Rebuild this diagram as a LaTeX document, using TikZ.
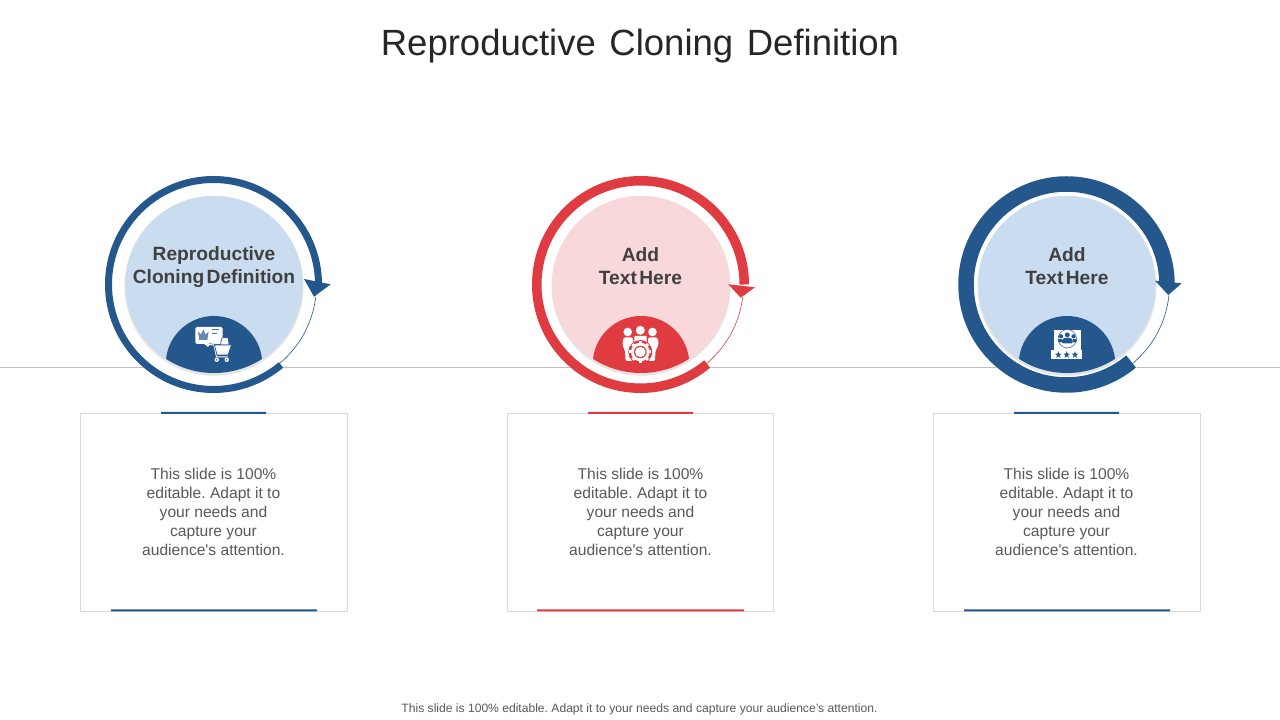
\documentclass[tikz,border=0pt]{standalone}
\usepackage{fontspec}
\setmainfont{Liberation Sans}
\newfontfamily\labelfam[WordSpace=0.45]{Liberation Sans}
\definecolor{bluem}{HTML}{24578C}
\definecolor{redm}{HTML}{DF3B40}
\definecolor{bluel}{HTML}{CADCF0}
\definecolor{redl}{HTML}{F8D8DA}
\definecolor{boxline}{HTML}{D9D9D9}
\definecolor{midline}{HTML}{BFBFBF}
\definecolor{shadow}{HTML}{E4E4E4}
\tikzset{
 titlet/.style={text=black!85,font=\fontsize{36.5}{44}\selectfont,inner sep=0pt},
 labelt/.style={text=black!75,font=\labelfam\fontsize{19.2}{23}\selectfont\bfseries,align=center,inner sep=0pt},
 bodyt/.style={text=black!65,font=\fontsize{15.6}{19}\selectfont\frenchspacing,align=center,inner sep=0pt},
 foott/.style={text=black!65,font=\fontsize{12.1}{14}\selectfont\frenchspacing,inner sep=0pt},
 cardbox/.style={draw=boxline,line width=0.8pt,fill=white,minimum width=#1,minimum height=198pt,inner sep=0pt},
}
\newcommand{\ringunit}[7]{%
 \fill[white] (#1,435.5) circle (108.5);
 \fill[shadow] (#1+0.5,433.8) circle (89.5);
 \fill[#3] (#1+0.5,435.5) circle (88.7);
 \begin{scope}
  \clip (#1+0.5,435.5) circle (88.5);
  \fill[#2] (#1+0.5,355.7) circle (48.3);
 \end{scope}
 \draw[#2,line width=#4] (#1,435.5) ++(0:#5) arc[start angle=0,end angle=310,radius=#5];
 \draw[#2,line width=0.6pt] (#1,435.5) ++(-50:103) arc[start angle=-50,end angle=#7,radius=103];
 \fill[#2] #6 -- cycle;
}
\begin{document}
\begin{tikzpicture}[x=1pt,y=1pt]
\useasboundingbox (0,0) rectangle (1280,720);
\fill[white] (0,0) rectangle (1280,720);
\node[titlet] (title) at (640,673.5) {Reproductive\ \hspace{3.5pt}Cloning\ \hspace{3.5pt}Definition};
\draw[midline,line width=0.8pt] (0,352.5) -- (1280,352.5);

\ringunit{213.5}{bluem}{bluel}{7pt}{105}{(304,441) -- (330.7,435.7) -- (314,423.3)}{-7}
\ringunit{640.5}{redm}{redl}{9.5pt}{103.75}{(728.3,435.7) -- (755,432.7) -- (740.7,422.3)}{-7}
\ringunit{1066.5}{bluem}{bluel}{15.5pt}{100.5}{(1155,439.3) -- (1181.7,436.7) -- (1168.3,425)}{-6}

\node[labelt] (l1) at (214,452.5) {Reproductive\\Cloning Definition};
\node[labelt] (l2) at (640.5,454) {Add\\Text Here};
\node[labelt] (l3) at (1067,454) {Add\\Text Here};

\begin{scope}[y=-1pt,shift={(0pt,720pt)}]
 % card with crown and cart
 \fill[white,rounded corners=1.5pt] (195.3,327) rectangle (222.7,344);
 \fill[white] (203,343) -- (212,343) -- (208,347) -- cycle;
 \fill[bluem!70] (198,331.5) -- (201,334.5) -- (203.3,329.5) -- (205.6,334.5) -- (208.6,331.5) -- (207.3,340) -- (199.3,340) -- cycle;
 \draw[bluem!80,line width=0.7pt] (212,329.5) -- (219,329.5) (212,333.5) -- (217,333.5);
 \draw[bluem,line width=2.2pt] (209,344.5) -- (214,345) -- (216.5,356.8) -- (228,356.8);
 \draw[white,line width=1pt] (209,344.5) -- (214,345) -- (216.5,356.8) -- (228,356.8);
 \fill[white,draw=bluem,line width=0.7pt] (220.5,345) -- (221.5,339) -- (223,337.5) -- (227,337.5) -- (228.5,339) -- (229,345) -- cycle;
 \fill[white,draw=bluem,line width=0.7pt] (214.5,345) -- (231.5,345) -- (228,355) -- (217,355) -- cycle;
 \fill[white] (216.7,359.8) circle (2.2pt) (226.7,359.8) circle (2.2pt);
 \fill[bluem] (216.7,359.8) circle (0.8pt) (226.7,359.8) circle (0.8pt);
 % people and gear
 \fill[white] (627.7,332) circle (4.3pt) (640.3,330.3) circle (4.5pt) (652.5,332) circle (4.3pt);
 \fill[white,rounded corners=2pt] (623,337.5) -- (633,337.5) -- (633,361) -- (625.5,361) -- (625,350) -- (622.5,346) -- cycle;
 \fill[white,rounded corners=2pt] (648,337.5) -- (658,337.5) -- (658.5,346) -- (655.5,350) -- (655,361) -- (648,361) -- cycle;
 \fill[white] (634.5,336) -- (646.5,336) -- (647,345) -- (634,345) -- cycle;
 \fill[redm] (640.3,352) circle (12pt);
 \fill[white] (640.3,352) circle (9.3pt);
 \foreach \ga in {0,45,...,315} {\fill[white,rotate around={\ga:(640.3,352)}] (638.8,341) rectangle (641.8,345);}
 \fill[redm] (640.3,352) circle (6.3pt);
 \fill[white] (640.3,352) circle (5.2pt);
 % badge with people and stars
 \fill[white] (1054,330) rectangle (1080.7,351);
 \draw[bluem!85,line width=0.6pt] (1067.3,338.7) circle (9.2pt);
 \fill[bluem] (1067.3,334.9) circle (2.5pt) (1061,336.3) circle (2.1pt) (1073.5,336.3) circle (2.1pt);
 \fill[bluem,rounded corners=1pt] (1062,343.5) -- (1062,339.5) -- (1064,338) -- (1070.5,338) -- (1072.5,339.5) -- (1072.5,343.5) -- cycle;
 \fill[bluem,rounded corners=1pt] (1058,342.5) -- (1058,339.5) -- (1060,338.8) -- (1062,338.8) -- (1062,342.5) -- cycle;
 \fill[bluem,rounded corners=1pt] (1072.5,342.5) -- (1072.5,338.8) -- (1075,338.8) -- (1076.7,339.5) -- (1076.7,342.5) -- cycle;
 \fill[white] (1051,350.3) rectangle (1081.7,358.7);
 \foreach \sx in {1058.3,1066.7,1075} {
  \fill[bluem] (\sx,351.2) -- (\sx+0.9,353.7) -- (\sx+3.2,353.7) -- (\sx+1.4,355.3) -- (\sx+2.1,357.9) -- (\sx,356.3) -- (\sx-2.1,357.9) -- (\sx-1.4,355.3) -- (\sx-3.2,353.7) -- (\sx-0.9,353.7) -- cycle;
 }
\end{scope}

\node[cardbox=267.2pt] (b1) at (214,208) {};
\node[cardbox=266.2pt] (b2) at (640.5,208) {};
\node[cardbox=267.2pt] (b3) at (1067,208) {};
\fill[bluem] (161,306) rectangle (266,308) (111,108.5) rectangle (317,110.5);
\fill[redm] (588,306) rectangle (693,308) (537,108.5) rectangle (744,110.5);
\fill[bluem] (1014,306) rectangle (1119,308) (964,108.5) rectangle (1170,110.5);

\node[bodyt] (t1) at (213.5,208) {This slide is 100\%\\editable. Adapt it to\\your needs and\\capture your\\audience\textquotesingle s attention.};
\node[bodyt] (t2) at (640.5,208) {This slide is 100\%\\editable. Adapt it to\\your needs and\\capture your\\audience\textquotesingle s attention.};
\node[bodyt] (t3) at (1066.5,208) {This slide is 100\%\\editable. Adapt it to\\your needs and\\capture your\\audience\textquotesingle s attention.};
\node[foott] (foot) at (639.5,11) {This slide is 100\% editable. Adapt it to your needs and capture your audience's attention.};
\end{tikzpicture}
\end{document}
